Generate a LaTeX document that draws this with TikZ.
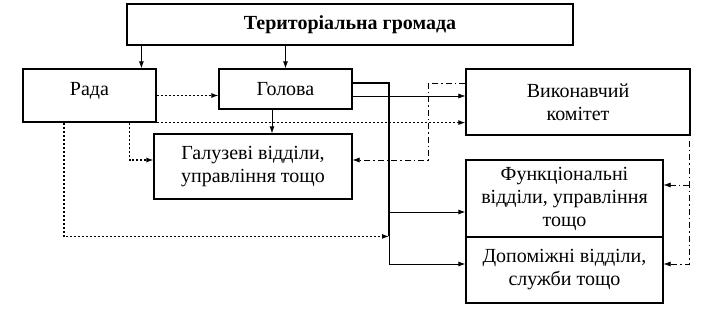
\documentclass[tikz,border=0pt]{standalone}
\usepackage{fontspec}
\setmainfont{Liberation Serif}
\usepackage{tikz}
\usetikzlibrary{positioning,arrows.meta}

\begin{document}
\begin{tikzpicture}[x=1pt, y=-1pt,
    box/.style={draw, line width=1.2pt, align=center, inner sep=0pt,
                font=\fontsize{20}{23}\selectfont},
    arr/.style={line width=0.9pt, -{Latex[length=7pt,width=5pt]}},
    thinarr/.style={line width=0.6pt, -{Latex[length=7pt,width=5pt]}},
    busline/.style={line width=1.5pt},
    dotarr/.style={line width=1.1pt, dash pattern=on 2pt off 2pt, -{Latex[length=7pt,width=5pt]}},
    ddline/.style={line width=0.6pt, dash pattern=on 6pt off 3pt on 1.5pt off 3pt},
    ddarr/.style={ddline, -{Latex[length=7pt,width=5pt]}}]
    \useasboundingbox (0,0) rectangle (722,315);

    % boxes
    \node[box, minimum width=446pt, minimum height=41pt, font=\fontsize{20}{23}\selectfont\bfseries]
        (hromada) at (350,24.5) {Територіальна громада};
    \node[box, minimum width=133pt, minimum height=53pt, text depth=13pt] (rada) at (89.5,95.5) {Рада};
    \node[box, minimum width=133pt, minimum height=40pt] (holova) at (285.5,89) {Голова};
    \node[box, minimum width=198pt, minimum height=65pt] (haluz) at (253,166.5)
        {Галузеві відділи,\\управління тощо};
    \node[box, minimum width=224pt, minimum height=66pt] (vykonkom) at (578,102)
        {Виконавчий\\комітет};
    \node[box, minimum width=197pt, minimum height=77pt] (funk) at (564.5,198.5)
        {Функціональні\\відділи, управління\\тощо};
    \node[box, minimum width=197pt, minimum height=66pt] (dop) at (564.5,270)
        {Допоміжні відділи,\\служби тощо};

    % rails
    \coordinate (bus) at (389,83);
    \coordinate (ddleft) at (428,83);
    \coordinate (ddright) at (689,141);
    \coordinate (funkin) at ([yshift=-13.5]funk.west);
    \coordinate (funkdd) at ([yshift=13.5]funk.east);

    % solid connectors
    \draw[arr] ([xshift=15]hromada.south west) -- ([xshift=15]hromada.south west |- rada.north);
    \draw[arr] (hromada.south -| holova.north) -- (holova.north);
    \draw[arr] ([xshift=-13.5]holova.south) -- ([xshift=-13.5]holova.south |- haluz.north);
    \draw[thinarr] ([yshift=-7]holova.east) -- ([yshift=-7]holova.east -| vykonkom.west);
    \draw[busline] ([yshift=6]holova.east) -- (bus) -- (bus |- dop.north);
    \draw[arr] (bus |- dop.north) |- ([yshift=6]dop.west);
    \draw[arr] (bus |- funkin) -- (funkin);

    % dotted connectors
    \draw[dotarr] (rada.east) -- (rada.east -| holova.west);
    \draw[dotarr] (rada.south east) -- (rada.south east -| vykonkom.west);
    \draw[dotarr] ([xshift=-27]rada.south east) |- ([yshift=6.5]haluz.west);
    \draw[dotarr] ([xshift=-25.5]rada.south) |- (bus |- dop.north);

    % dash-dot connectors
    \draw[ddline] ([yshift=19]vykonkom.west) -- (ddleft);
    \draw[ddarr] (ddleft) |- ([yshift=6.5]haluz.east);
    \draw[ddarr] (ddright) |- ([yshift=6]dop.east);
    \draw[ddarr] (ddright |- funkdd) -- (funkdd);
\end{tikzpicture}
\end{document}
